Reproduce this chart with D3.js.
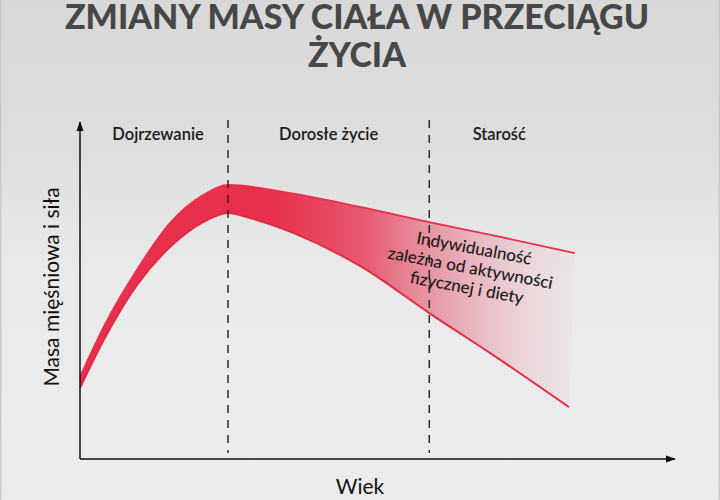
<!DOCTYPE html>
<html>
<head>
<meta charset="utf-8">
<script src="https://cdn.jsdelivr.net/npm/d3@7"></script>
<style>
  html, body { margin: 0; padding: 0; background: #e6e6e6; }
  svg { display: block; }
</style>
</head>
<body>
<div id="chart"></div>
<script>
// dane
var titleLines = ["ZMIANY MASY CIAŁA W PRZECIĄGU", "ŻYCIA"];
var phases = ["Dojrzewanie", "Dorosłe życie", "Starość"];
var phaseBounds = [0, 25, 59, 100];       // granice etapów (oś x, 0-100)
var annotation = ["Indywidualność", "zależna od aktywności", "fizycznej i diety"];
var xLabel = "Wiek";
var yLabel = "Masa mięśniowa i siła";

// górna i dolna krawędź pasa (x, y w umownych jednostkach 0-100)
var upperX = [0, 4, 9.6, 15.2, 20.8, 25, 35.5, 47.3, 59, 71, 83.6];
var upperY = [24.3, 39.2, 56.1, 70, 78.3, 81.3, 78.9, 74.8, 70.3, 65.9, 61.1];
var lowerX = [0, 4, 9.6, 15.2, 20.8, 25, 28.7, 36, 47.3, 59, 71, 82.6];
var lowerY = [21.1, 35.3, 51.6, 62.9, 70.3, 73, 71.5, 67.1, 57.3, 43.3, 29.4, 15.4];

var width = 720, height = 500;
var margin = {left: 80, right: 48, top: 122, bottom: 41};

var svg = d3.select("#chart")
  .append("svg")
  .attr("width", width)
  .attr("height", height);

var defs = svg.append("defs");

// tło
var bg = defs.append("linearGradient")
  .attr("id", "bg")
  .attr("x1", 0).attr("y1", 0).attr("x2", 0).attr("y2", 1);
bg.append("stop").attr("offset", "0%").attr("stop-color", "#d8d8d8");
bg.append("stop").attr("offset", "30%").attr("stop-color", "#dedede");
bg.append("stop").attr("offset", "55%").attr("stop-color", "#eaeaea");
bg.append("stop").attr("offset", "100%").attr("stop-color", "#ececec");

svg.append("rect")
  .attr("width", width)
  .attr("height", height)
  .attr("fill", "url(#bg)");
svg.append("rect")
  .attr("x", 0.5).attr("y", -1)
  .attr("width", width - 1).attr("height", height + 2)
  .attr("fill", "none")
  .attr("stroke", "#c9c9c9")
  .attr("stroke-width", 2);

// skale
var x = d3.scaleLinear().domain([0, 100]).range([margin.left, width - margin.right]);
var y = d3.scaleLinear().domain([0, 100]).range([height - margin.bottom, margin.top]);

// gradient pasa
var fade = defs.append("linearGradient")
  .attr("id", "fade")
  .attr("gradientUnits", "userSpaceOnUse")
  .attr("x1", x(0)).attr("y1", 0)
  .attr("x2", x(86)).attr("y2", 0);
fade.append("stop").attr("offset", "0%").attr("stop-color", "#e8304c").attr("stop-opacity", 1);
fade.append("stop").attr("offset", "38%").attr("stop-color", "#e8304c").attr("stop-opacity", 1);
fade.append("stop").attr("offset", "56%").attr("stop-color", "#e6526a").attr("stop-opacity", 0.95);
fade.append("stop").attr("offset", "74%").attr("stop-color", "#e88e9e").attr("stop-opacity", 0.7);
fade.append("stop").attr("offset", "90%").attr("stop-color", "#ecbcc5").attr("stop-opacity", 0.35);
fade.append("stop").attr("offset", "100%").attr("stop-color", "#eed0d5").attr("stop-opacity", 0.1);

// tytuł
svg.append("g").selectAll("text")
  .data(titleLines)
  .enter()
  .append("text")
  .attr("x", 357)
  .attr("y", function(d, i) { return 29 + i * 38; })
  .attr("text-anchor", "middle")
  .attr("font-family", "Lato, sans-serif")
  .attr("font-weight", 900)
  .attr("font-size", "34px")
  .attr("fill", "#474747")
  .text(function(d) { return d; });

// pas
var upper = upperX.map(function(v, i) { return [v, upperY[i]]; });
var lower = lowerX.map(function(v, i) { return [v, lowerY[i]]; });

var curve = d3.line()
  .x(function(d) { return x(d[0]); })
  .y(function(d) { return y(d[1]); })
  .curve(d3.curveMonotoneX);

var gBand = svg.append("g");
gBand.append("path")
  .attr("d", curve(upper) + "L" + curve(lower.slice().reverse()).slice(1) + "Z")
  .attr("fill", "url(#fade)");
gBand.append("path")
  .attr("d", curve(upper))
  .attr("fill", "none")
  .attr("stroke", "#e8304c")
  .attr("stroke-width", 1.8);
gBand.append("path")
  .attr("d", curve(lower))
  .attr("fill", "none")
  .attr("stroke", "#e02a46")
  .attr("stroke-width", 2);

// linie przerywane
svg.append("g").selectAll("line")
  .data(phaseBounds.slice(1, 3))
  .enter()
  .append("line")
  .attr("x1", function(d) { return x(d); })
  .attr("x2", function(d) { return x(d); })
  .attr("y1", margin.top - 2)
  .attr("y2", height - margin.bottom - 6)
  .attr("stroke", "#2a2a2a")
  .attr("stroke-width", 1.5)
  .attr("stroke-dasharray", "8,7");

// etapy
svg.append("g").selectAll("text")
  .data(phases)
  .enter()
  .append("text")
  .attr("x", function(d, i) {
    var offs = [4, 0, -4];
    return (x(phaseBounds[i]) + x(Math.min(phaseBounds[i + 1], 84))) / 2 + offs[i];
  })
  .attr("y", 140)
  .attr("text-anchor", "middle")
  .attr("font-family", "Lato, sans-serif")
  .attr("font-weight", 600)
  .attr("font-size", "16.5px")
  .attr("fill", "#1a1a1a")
  .text(function(d) { return d; });

// osie ze strzałkami
defs.append("marker")
  .attr("id", "arrow")
  .attr("viewBox", "0 0 10 10")
  .attr("refX", 9).attr("refY", 5)
  .attr("markerWidth", 10).attr("markerHeight", 10)
  .attr("markerUnits", "userSpaceOnUse")
  .attr("orient", "auto")
  .append("path")
  .attr("d", "M0,1.5L10,5L0,8.5Z")
  .attr("fill", "#111");

var gAxis = svg.append("g");
gAxis.append("line")
  .attr("x1", x(0)).attr("y1", y(0))
  .attr("x2", x(0)).attr("y2", margin.top)
  .attr("stroke", "#111").attr("stroke-width", 1.5)
  .attr("marker-end", "url(#arrow)");
gAxis.append("line")
  .attr("x1", x(0)).attr("y1", y(0))
  .attr("x2", width - 45).attr("y2", y(0))
  .attr("stroke", "#111").attr("stroke-width", 1.5)
  .attr("marker-end", "url(#arrow)");

gAxis.append("text")
  .attr("x", 360)
  .attr("y", 494)
  .attr("text-anchor", "middle")
  .attr("font-family", "Lato, sans-serif")
  .attr("font-size", "21px")
  .attr("fill", "#111")
  .text(xLabel);

gAxis.append("text")
  .attr("transform", "translate(59,287) rotate(-90)")
  .attr("text-anchor", "middle")
  .attr("font-family", "Lato, sans-serif")
  .attr("font-size", "21px")
  .attr("fill", "#111")
  .text(yLabel);

// opis
svg.append("g")
  .attr("transform", "translate(473,254) rotate(10.5)")
  .selectAll("text")
  .data(annotation)
  .enter()
  .append("text")
  .attr("x", 0)
  .attr("y", function(d, i) { return i * 20; })
  .attr("text-anchor", "middle")
  .attr("font-family", "Lato, sans-serif")
  .attr("font-weight", 500)
  .attr("font-size", "17px")
  .attr("fill", "#1a1a1a")
  .text(function(d) { return d; });
</script>
</body>
</html>
